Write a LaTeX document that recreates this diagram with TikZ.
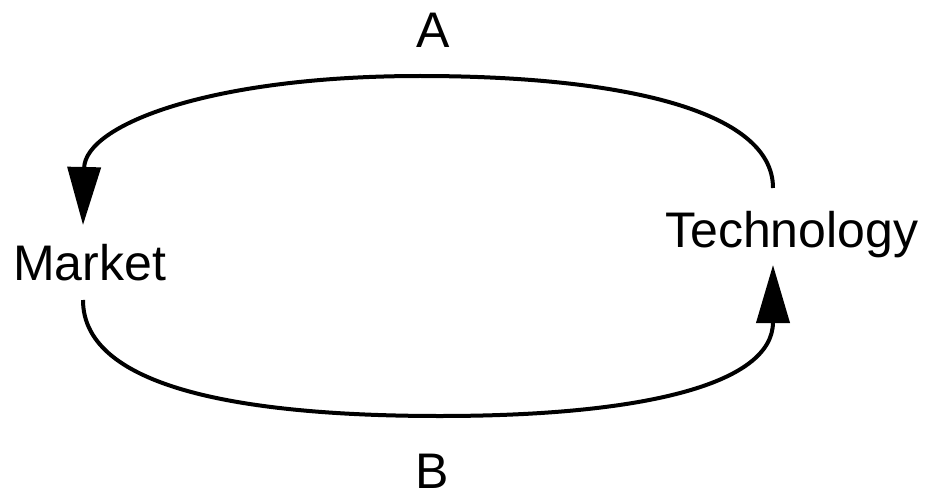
\documentclass[tikz,border=0pt]{standalone}
\usepackage{fontspec}
\setmainfont{Liberation Sans}
\usetikzlibrary{arrows.meta}
\begin{document}
\begin{tikzpicture}[x=1pt,y=-1pt,
  lbl/.style={inner sep=0pt,font=\fontsize{50}{60}\selectfont},
  flow/.style={line width=4pt,-{Triangle[length=58pt,width=33pt]}}]
\useasboundingbox (0,0) rectangle (931,492);
\node[lbl,anchor=base west] (market) at (13,280) {Market};
\node[lbl,anchor=base west] (tech) at (665,247) {Technology};
\node[lbl,anchor=base] (A) at (433,48) {A};
\node[lbl,anchor=base] (B) at (432,488) {B};
\coordinate (t1) at (773,188);
\coordinate (t2) at (83,225);
\coordinate (b1) at (83,300);
\coordinate (b2) at (773,265);
\draw[flow] (t1) .. controls (773,110) and (620,76) .. (420,76)
  .. controls (210,76) and (85,125) .. (t2);
\draw[flow] (b1) .. controls (83,390) and (250,416) .. (440,416)
  .. controls (640,416) and (773,385) .. (b2);
\end{tikzpicture}
\end{document}
